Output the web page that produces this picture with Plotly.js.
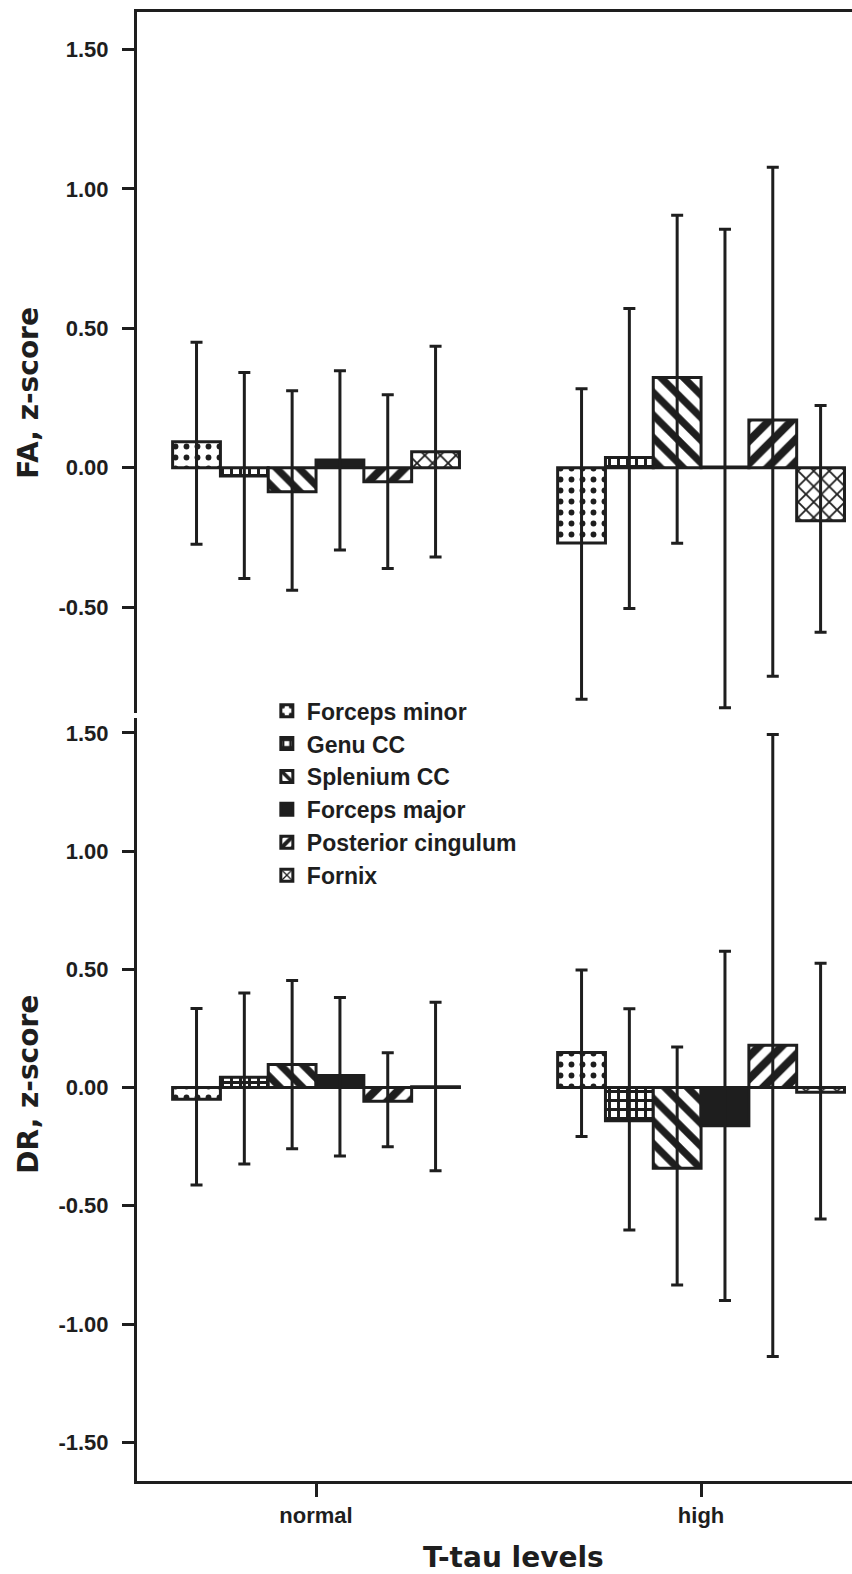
<!DOCTYPE html>
<html>
<head>
<meta charset="utf-8">
<script src="https://cdn.plot.ly/plotly-3.0.1.min.js"></script>
<style>html,body{margin:0;padding:0;background:#fff;}</style>
</head>
<body>
<div id="chart" style="width:852px;height:1574px;"></div>
<script>
// ---------- data ----------
const categories = ['normal', 'high'];
const tracts = ['Forceps minor', 'Genu CC', 'Splenium CC', 'Forceps major', 'Posterior cingulum', 'Fornix'];

// FA z-score: mean, upper and lower error-bar ends, per tract [normal, high]
const faMean  = [[0.093, -0.270], [-0.030, 0.037], [-0.086, 0.324], [0.028, 0.003], [-0.050, 0.171], [0.057, -0.190]];
const faUpper = [[0.450, 0.283], [0.342, 0.571], [0.276, 0.906], [0.348, 0.856], [0.262, 1.078], [0.436, 0.223]];
const faLower = [[-0.275, -0.831], [-0.397, -0.505], [-0.440, -0.271], [-0.295, -0.861], [-0.362, -0.748], [-0.320, -0.590]];

// DR z-score
const drMean  = [[-0.049, 0.148], [0.044, -0.140], [0.097, -0.341], [0.051, -0.162], [-0.058, 0.179], [0.003, -0.020]];
const drUpper = [[0.334, 0.497], [0.400, 0.333], [0.453, 0.172], [0.381, 0.576], [0.147, 1.493], [0.361, 0.526]];
const drLower = [[-0.412, -0.207], [-0.323, -0.602], [-0.259, -0.835], [-0.289, -0.901], [-0.250, -1.137], [-0.352, -0.556]];

const faTickVals = [-0.5, 0, 0.5, 1.0, 1.5];
const faTickText = ['-0.50', '0.00', '0.50', '1.00', '1.50'];
const drTickVals = [-1.5, -1.0, -0.5, 0, 0.5, 1.0, 1.5];
const drTickText = ['-1.50', '-1.00', '-0.50', '0.00', '0.50', '1.00', '1.50'];

// ---------- styles ----------
const INK = '#1e1e1e';
const FONT = 'Liberation Sans, Arial, sans-serif';
const TITLEFONT = 'DejaVu Sans, sans-serif';
const patterns = [
  {shape: '.', size: 11, solidity: 0.22},
  {shape: '+', size: 9, solidity: 0.55},
  {shape: '\\', size: 16, solidity: 0.45},
  {shape: '', size: 8, solidity: 1},
  {shape: '/', size: 16, solidity: 0.5},
  {shape: 'x', size: 11, solidity: 0.3}
];

function makeTraces(mean, upper, lower, xa, ya, showLegend) {
  return tracts.map((name, i) => {
    const solid = patterns[i].shape === '';
    return {
      type: 'bar',
      name: name,
      x: categories,
      y: mean[i],
      xaxis: xa, yaxis: ya,
      showlegend: showLegend,
      legendgroup: name,
      marker: {
        color: solid ? INK : 'white',
        line: {color: INK, width: 3},
        pattern: solid ? undefined : {
          shape: patterns[i].shape, size: patterns[i].size, solidity: patterns[i].solidity,
          fgcolor: INK, bgcolor: 'white', fillmode: 'replace'
        }
      },
      error_y: {
        type: 'data', symmetric: false,
        array: upper[i].map((u, k) => u - mean[i][k]),
        arrayminus: lower[i].map((l, k) => mean[i][k] - l),
        color: INK, thickness: 3, width: 6
      },
      hoverinfo: 'skip'
    };
  });
}

const data = [].concat(
  makeTraces(faMean, faUpper, faLower, 'x', 'y', true),
  makeTraces(drMean, drUpper, drLower, 'x2', 'y2', false)
);

const tickFont = {family: FONT, size: 22, color: INK, weight: 'bold'};
const titleFont = {family: TITLEFONT, size: 28, color: INK, weight: 'bold'};
const xRange = [-0.465, 1.392];

const layout = {
  width: 852, height: 1574,
  margin: {l: 137, r: 0, t: 12, b: 93},
  paper_bgcolor: 'white', plot_bgcolor: 'white',
  barmode: 'group', bargap: 0.255, bargroupgap: 0,
  showlegend: true,
  legend: {
    x: 0.1816, xanchor: 'left', y: 0.539, yanchor: 'top',
    font: {family: FONT, size: 23, color: INK, weight: 'bold'},
    bgcolor: 'rgba(0,0,0,0)', tracegroupgap: 0, traceorder: 'normal'
  },
  xaxis: {
    domain: [0, 1], anchor: 'y', side: 'top', range: xRange,
    type: 'category', showline: true, linecolor: INK, linewidth: 3,
    ticks: '', showticklabels: false, showgrid: false, zeroline: false, fixedrange: true
  },
  xaxis2: {
    domain: [0, 1], anchor: 'y2', range: xRange, type: 'category',
    showline: true, linecolor: INK, linewidth: 3,
    ticks: 'outside', ticklen: 13, tickwidth: 3, tickcolor: INK,
    tickfont: tickFont, ticklabelstandoff: 0,
    showgrid: false, zeroline: false
  },
  yaxis: {
    domain: [0.5228, 1], anchor: 'x', range: [-0.880, 1.635],
    showline: true, linecolor: INK, linewidth: 3,
    ticks: 'outside', ticklen: 12, tickwidth: 3, tickcolor: INK,
    tickvals: faTickVals, ticktext: faTickText, tickfont: tickFont, ticklabelstandoff: 9,
    showgrid: false, zeroline: false
  },
  yaxis2: {
    domain: [0, 0.5194], anchor: 'x2', range: [-1.664, 1.563],
    showline: true, linecolor: INK, linewidth: 3,
    ticks: 'outside', ticklen: 12, tickwidth: 3, tickcolor: INK,
    tickvals: drTickVals, ticktext: drTickText, tickfont: tickFont, ticklabelstandoff: 9,
    showgrid: false, zeroline: false
  },
  annotations: [
    {text: 'FA, z-score', textangle: -90, xref: 'paper', yref: 'paper',
     x: -0.152, y: 0.741, xanchor: 'center', yanchor: 'middle', showarrow: false,
     font: titleFont},
    {text: 'DR, z-score', textangle: -90, xref: 'paper', yref: 'paper',
     x: -0.152, y: 0.270, xanchor: 'center', yanchor: 'middle', showarrow: false,
     font: titleFont},
    {text: 'T-tau levels', xref: 'paper', yref: 'paper',
     x: 0.526, y: -0.0524, xanchor: 'center', yanchor: 'middle', showarrow: false,
     font: titleFont}
  ]
};

Plotly.newPlot('chart', data, layout, {displayModeBar: false, staticPlot: true});
</script>
</body>
</html>
